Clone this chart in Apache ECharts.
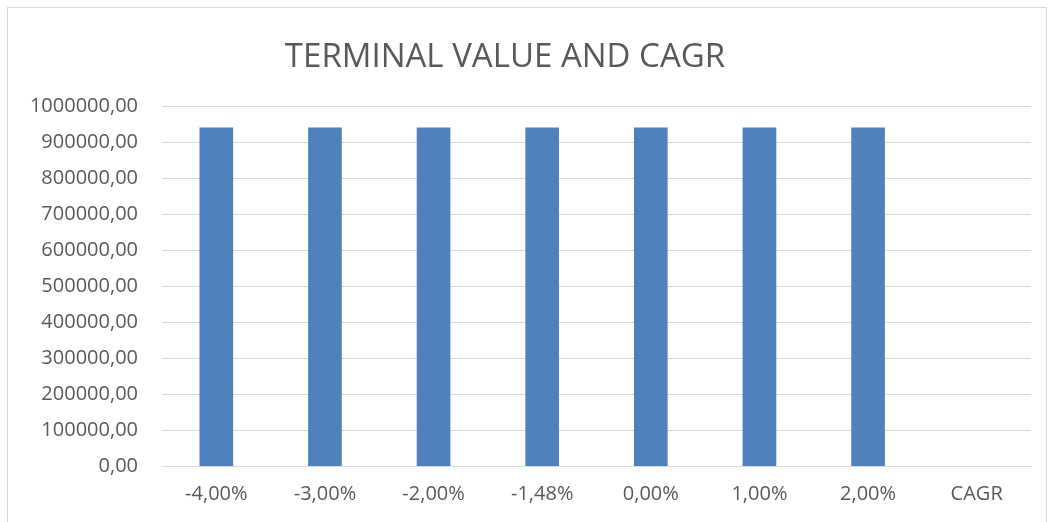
<!DOCTYPE html>
<html>
<head>
<meta charset="utf-8">
<script src="https://cdn.jsdelivr.net/npm/echarts@6/dist/echarts.min.js"></script>
<style>
  html, body { margin: 0; padding: 0; background: #fff; }
  #frame { position: absolute; left: 7px; top: 7px; width: 1040px; height: 520px; border: 1px solid #d9d9d9; box-sizing: border-box; }
  #chart { width: 1049px; height: 522px; }
</style>
</head>
<body>
<div id="frame"></div>
<div id="chart"></div>
<script>
// categories (growth rates) and terminal values
var categories = ['-4,00%', '-3,00%', '-2,00%', '-1,48%', '0,00%', '1,00%', '2,00%', 'CAGR'];
var terminalValues = [940000, 940000, 940000, 940000, 940000, 940000, 940000, null];

var chart = echarts.init(document.getElementById('chart'));
var option = {
    animation: false,
    title: {
        text: 'TERMINAL VALUE AND CAGR',
        left: 500,
        top: 36,
        textAlign: 'center',
        textStyle: { color: '#595959', fontFamily: 'Open Sans', fontSize: 33, fontWeight: 'normal' }
    },
    grid: { left: 162, right: 18, top: 106, bottom: 56, containLabel: false },
    xAxis: {
        type: 'category',
        data: categories,
        axisLine: { lineStyle: { color: '#d9d9d9' } },
        axisTick: { show: false },
        axisLabel: { color: '#595959', fontFamily: 'Open Sans', fontSize: 20, margin: 18 }
    },
    yAxis: {
        type: 'value',
        min: 0,
        max: 1000000,
        interval: 100000,
        axisLine: { show: false },
        axisTick: { show: false },
        splitLine: { lineStyle: { color: '#d9d9d9', width: 1 } },
        axisLabel: {
            color: '#595959', fontFamily: 'Open Sans', fontSize: 20, margin: 24,
            formatter: function (v) { return v + ',00'; }
        }
    },
    series: [{
        type: 'bar',
        data: terminalValues,
        barWidth: '31%',
        itemStyle: { color: '#4f81bd' }
    }]
};
chart.setOption(option);
</script>
</body>
</html>
